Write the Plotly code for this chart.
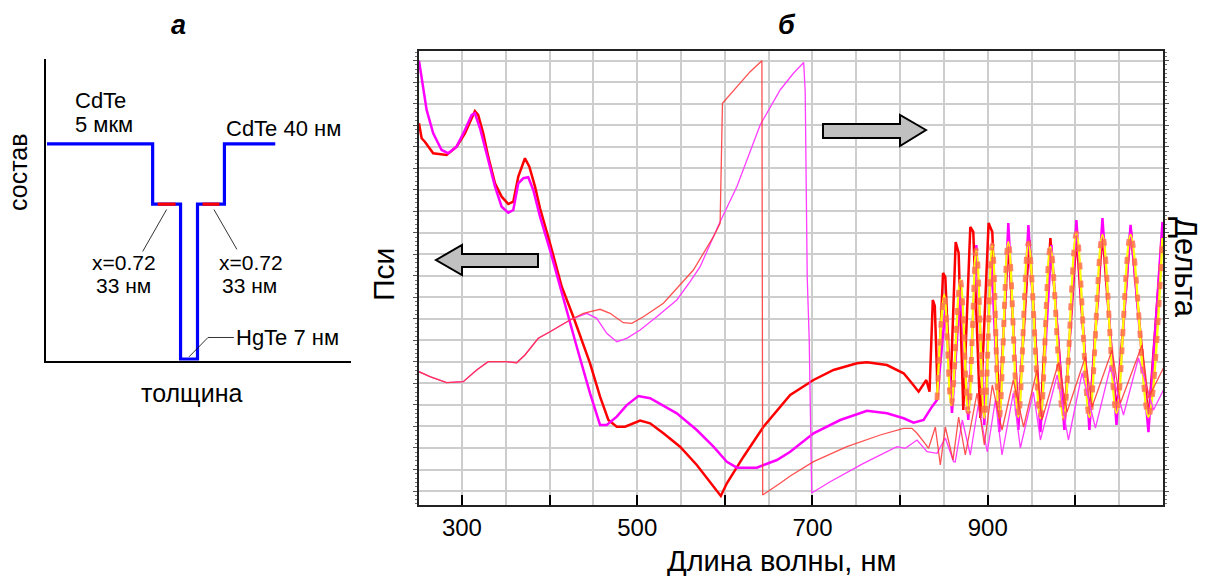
import plotly.graph_objects as go

W, H = 1211, 576

# ---------------- panel a: composition profile of the structure ----------------
layer_names = ["CdTe", "CdHgTe", "HgTe", "CdHgTe", "CdTe"]
layer_comp = [1.0, 0.72, 0.0, 0.72, 1.0]          # CdTe fraction x
layer_span = [106, 28, 17, 27, 51]                # schematic thickness, not to scale

# ---------------- panel б: ellipsometric spectra ----------------
# Psi, experiment
psi_exp_wl = [251, 254.0, 257.7, 267.2, 282.5, 293.9, 303.4, 311.1, 314.8, 318.6, 324.3, 330.0,
              337.7, 345.3, 352.9, 358.6, 364.3, 371.9, 376.9, 383.4, 389.1, 400.5, 413.9, 427.1,
              446.2, 457.6, 467.1, 476.7, 486.1, 503.3, 514.7, 529.9, 548.9, 568.0, 583.2, 595.4,
              602.3, 621.3, 644.1, 674.6, 701.2, 724.0, 750.7, 762.2, 785.0, 804.0, 813.5, 821.1,
              829.9, 833.6, 837.3, 839.6, 843.0, 849.0, 851.6, 857.3, 863.4, 866.8, 872.1, 880.1,
              883.5, 891.5, 901.0, 905.2, 913.2, 923.5, 934.9, 947.5, 960.1, 971.5, 987.5, 1001.2,
              1016.0, 1030.9, 1046.9, 1063.0, 1083.4, 1099.4]
psi_exp = [34.18, 32.79, 32.47, 31.39, 31.23, 32.01, 33.25, 34.65, 35.32, 34.95, 33.25, 31.08,
           28.60, 27.36, 26.68, 26.89, 29.22, 30.93, 30.15, 28.29, 26.28, 23.03, 18.99, 16.20,
           11.87, 8.77, 6.60, 5.98, 5.98, 6.54, 6.29, 5.36, 4.12, 2.42, 0.86, -0.46,
           0.72, 3.19, 5.98, 8.92, 10.32, 11.25, 11.87, 11.96, 11.71, 10.94, 10.01, 9.23,
           10.32, 9.23, 17.76, 17.20, 8.74, 20.27, 19.89, 8.92, 23.15, 22.12, 7.53, 24.54,
           24.08, 6.79, 24.91, 24.08, 7.07, 23.33, 6.79, 23.33, 6.60, 23.52, 6.51, 23.70,
           6.79, 24.08, 7.07, 24.45, 6.60, 24.08]

# Psi, model
psi_fit_wl = [251, 255.8, 259.7, 267.2, 276.8, 284.4, 293.9, 303.4, 311.1, 314.8, 320.6, 330.0,
              337.7, 345.3, 352.9, 358.6, 364.3, 370.0, 375.7, 381.4, 389.1, 400.5, 411.9, 415.7,
              431.0, 446.2, 457.6, 465.2, 476.7, 488.1, 501.3, 514.7, 545.2, 568.0, 587.0, 602.3,
              613.7, 636.5, 659.4, 674.6, 701.2, 731.7, 762.2, 785.0, 804.0, 815.4, 826.8, 836.4,
              842.1, 851.6, 859.2, 868.7, 877.8, 887.0, 896.1, 904.1, 913.2, 923.5, 934.9, 946.4,
              960.1, 972.6, 987.5, 1001.2, 1016.0, 1030.9, 1046.9, 1063.0, 1083.4, 1099.4]
psi_fit = [40.00, 37.58, 35.42, 33.25, 31.70, 31.39, 32.01, 33.56, 34.95, 35.11, 33.72, 30.77,
           28.29, 26.43, 25.87, 26.12, 28.60, 29.07, 29.16, 27.98, 25.50, 22.40, 18.99, 17.76,
           13.41, 9.08, 6.14, 6.14, 6.91, 7.99, 8.83, 8.62, 7.22, 5.67, 4.12, 2.72,
           2.17, 2.17, 2.88, 3.65, 5.36, 6.60, 7.46, 7.22, 6.76, 6.35, 6.60, 7.84,
           8.46, 16.83, 7.25, 18.69, 6.60, 22.87, 6.14, 21.94, 5.48, 24.91, 5.67, 24.73,
           5.48, 22.87, 5.67, 25.19, 5.67, 25.38, 6.14, 24.73, 5.48, 25.01]

# Psi, second model (interference region)
psi_fit2_wl = [842.1, 850.4, 858.4, 868.7, 877.8, 887.0, 896.1, 905.2, 913.2, 923.5, 934.9, 946.4,
               960.1, 971.5, 986.4, 1001.2, 1016.0, 1030.9, 1046.9, 1063.0, 1083.4, 1099.4]
psi_fit2 = [8.46, 18.22, 7.99, 19.61, 7.34, 22.40, 6.79, 22.87, 6.79, 23.15, 6.88, 23.05,
            6.79, 22.68, 6.79, 23.98, 6.88, 23.80, 7.25, 23.80, 6.88, 23.52]

# Delta, experiment
delta_exp_wl = [251, 263.5, 282.5, 301.5, 316.8, 330.0, 351.0, 362.5, 371.9, 387.1, 400.5, 423.3,
                438.5, 457.6, 469.0, 484.2, 493.8, 507.0, 529.9, 552.7, 564.1, 587.0, 594.6, 597.3,
                613.7, 628.9, 642.3, 643.2, 663.1, 674.6, 701.2, 739.3, 777.3, 803.9, 813.5, 819.3,
                826.8, 832.5, 840.2, 845.9, 851.6, 860.4, 866.8, 874.4, 887.8, 896.1, 905.2, 916.3,
                929.2, 940.9, 956.2, 961.9, 980.9, 990.5, 1011.4, 1019.0, 1041.9, 1051.4, 1076.1,
                1083.3, 1100.5]
delta_exp = [99.81, 95.62, 90.60, 91.44, 101.23, 108.17, 108.17, 107.33, 113.78, 127.75, 133.27, 143.06,
             148.66, 152.01, 148.66, 140.80, 140.30, 145.82, 157.03, 175.10, 184.89, 212.75, 223.96, 324.35,
             338.24, 350.79, 359.99, -3.35, 6.44, 12.55, 24.51, 37.06, 46.85, 52.45, 52.45, 48.27,
             41.24, 35.72, 53.54, 21.75, 53.54, 25.93, 61.91, 30.12, 81.99, 38.48, 88.68, 51.03,
             92.86, 53.54, 101.23, 59.40, 107.92, 66.09, 112.10, 70.27, 117.96, 73.62, 122.14,
             77.80, 102.90]

# Delta, model
delta_fit_wl = [251, 263.5, 282.5, 301.5, 316.8, 330.0, 351.0, 362.5, 371.9, 387.1, 400.5, 423.3,
                442.4, 453.8, 465.2, 476.7, 488.1, 503.3, 522.3, 545.2, 560.4, 571.8, 594.6, 613.7,
                640.3, 663.1, 678.3, 690.0, 691.7, 694.0, 696.3, 699.1, 720.2, 758.2, 796.4, 805.9,
                819.3, 830.7, 842.1, 851.6, 861.0, 862.9, 871.0, 880.1, 889.2, 899.5, 908.7, 916.3,
                929.2, 937.2, 952.1, 960.1, 979.2, 992.1, 1007.7, 1022.9, 1040.0, 1054.9, 1072.0,
                1089.2, 1100.5]
delta_fit = [99.81, 95.62, 90.60, 91.44, 101.23, 108.17, 108.17, 107.33, 113.78, 127.75, 133.27, 143.06,
             148.66, 144.48, 131.93, 124.90, 127.75, 134.69, 145.82, 159.79, 175.10, 187.65, 225.30, 254.58,
             306.20, 335.48, 349.45, 358.48, 334.05, 179.03, 126.33, -1.67, 7.78, 23.17, 37.06, 35.72,
             42.67, 32.88, 31.54, 44.34, 24.51, 24.26, 59.40, 30.12, 71.95, 32.63, 76.13, 30.12,
             81.99, 35.97, 82.82, 42.67, 97.05, 42.67, 98.72, 52.71, 103.99, 63.58, 111.27,
             67.76, 84.50]

x_labels = {300: "300", 500: "500", 700: "700", 900: "900"}

FONT = "Liberation Sans, Arial, sans-serif"


def paper(xp, yp):
    return xp / W, 1 - yp / H


fig = go.Figure()

# spectra: Delta curves on the right axis, Psi curves on the left axis
fig.add_trace(go.Scatter(x=delta_fit_wl, y=delta_fit, yaxis="y2", mode="lines",
                         line=dict(color="#ff3cff", width=1.3)))
fig.add_trace(go.Scatter(x=delta_exp_wl, y=delta_exp, yaxis="y2", mode="lines",
                         line=dict(color="rgba(255,50,50,0.85)", width=1.3)))
fig.add_trace(go.Scatter(x=psi_exp_wl, y=psi_exp, mode="lines",
                         line=dict(color="#ff0000", width=2.5)))
fig.add_trace(go.Scatter(x=psi_fit_wl, y=psi_fit, mode="lines",
                         line=dict(color="#ff00ff", width=2.5)))
fig.add_trace(go.Scatter(x=psi_fit2_wl, y=psi_fit2, mode="lines", line_shape="spline",
                         line=dict(color="#ffff00", width=2.4)))
fig.add_trace(go.Scatter(x=psi_fit2_wl, y=psi_fit2, mode="lines", line_shape="spline",
                         line=dict(color="rgba(255,105,80,0.8)", width=5, dash="7px,11px")))

# composition profile: step line built from the layer list
px_, py_ = [], []
pos = 0
bounds = []
for span, comp in zip(layer_span, layer_comp):
    px_ += [pos, pos + span]
    py_ += [comp, comp]
    bounds.append((pos, pos + span))
    pos += span
fig.add_trace(go.Scatter(x=px_, y=py_, xaxis="x2", yaxis="y3", mode="lines",
                         line=dict(color="#0000ff", width=3.2)))
# CdHgTe barriers highlighted in red
for (a, b), comp, name in zip(bounds, layer_comp, layer_names):
    if name == "CdHgTe":
        inset = 5
        fig.add_trace(go.Scatter(x=[a + inset, b - inset], y=[comp, comp], xaxis="x2", yaxis="y3",
                                 mode="lines", line=dict(color="#ff0000", width=3.2)))

# leader lines to the layer labels
lb, rb, well = bounds[1], bounds[3], bounds[2]
lmid = (lb[0] + lb[1]) / 2
rmid = (rb[0] + rb[1]) / 2
wmid = (well[0] + well[1]) / 2
leaders = [
    ([lmid, lmid - 24], [layer_comp[1] - 0.025, 0.50]),
    ([rmid + 3, rmid + 26], [layer_comp[3] - 0.025, 0.51]),
    ([wmid, wmid + 19, wmid + 45], [layer_comp[2] + 0.01, 0.10, 0.10]),
]
for lx, ly in leaders:
    fig.add_trace(go.Scatter(x=lx, y=ly, xaxis="x2", yaxis="y3", mode="lines",
                             line=dict(color="#000000", width=0.8)))

# block arrows pointing at the Psi (left) and Delta (right) axes
def poly(points):
    pts = [paper(x, y) for x, y in points]
    return "M " + " L ".join(f"{x:.5f},{y:.5f}" for x, y in pts) + " Z"

shapes = [
    dict(type="path", xref="paper", yref="paper",
         path=poly([(436, 260), (462, 245), (462, 254), (538, 254), (538, 267), (462, 267), (462, 275)]),
         fillcolor="#c0c0c0", line=dict(color="#000000", width=2)),
    dict(type="path", xref="paper", yref="paper",
         path=poly([(926, 130), (900, 115), (900, 124), (823, 124), (823, 138), (900, 138), (900, 146)]),
         fillcolor="#c0c0c0", line=dict(color="#000000", width=2)),
]

ann = []


def text(s, xp, yp, size, xanchor="center", angle=0, bold=False, italic=False):
    x, y = paper(xp, yp)
    t = s
    if bold:
        t = f"<b>{t}</b>"
    if italic:
        t = f"<i>{t}</i>"
    ann.append(dict(text=t, x=x, y=y, xref="paper", yref="paper", showarrow=False,
                    xanchor=xanchor, yanchor="middle", textangle=angle,
                    font=dict(family=FONT, size=size, color="#000000")))


text("а", 178, 25, 27, bold=True, italic=True)
text("б", 787, 25, 27, bold=True, italic=True)
text("CdTe", 73, 100, 22, xanchor="left")
text("5 мкм", 73, 125, 22, xanchor="left")
text("CdTe 40 нм", 224, 128, 22, xanchor="left")
text("x=0.72", 124, 262, 21)
text("33 нм", 123, 285, 21)
text("x=0.72", 251, 262, 21)
text("33 нм", 249, 285, 21)
text("HgTe 7 нм", 234, 337, 22, xanchor="left")
text("состав", 18, 172, 25, angle=-90)
text("толщина", 191, 393, 25)
text("Пси", 383, 275, 30, angle=-90)
text("Дельта", 1186, 267, 31, angle=90)
text("Длина волны, нм", 781, 561, 29)

x0, y0 = paper(419, 505)
x1, y1 = paper(1163, 51)
ax0, ay0 = paper(46, 361)
ax1, ay1 = paper(351, 59)

grid = "#cdcdcd"
fig.update_layout(
    width=W, height=H, margin=dict(l=0, r=0, t=0, b=0),
    paper_bgcolor="white", plot_bgcolor="white", showlegend=False,
    shapes=shapes, annotations=ann,
    xaxis=dict(domain=[x0, x1], range=[251, 1100], anchor="y",
               tickvals=list(range(300, 1001, 100)),
               ticktext=[x_labels.get(v, "") for v in range(300, 1001, 100)],
               ticks="inside", ticklen=10, tickwidth=2, tickcolor="#000000",
               tickfont=dict(family=FONT, size=24, color="#000000"),
               showgrid=True, gridcolor=grid, gridwidth=1.6,
               minor=dict(tickvals=list(range(350, 1051, 100)), showgrid=True,
                          gridcolor=grid, gridwidth=1.6, ticks=""),
               showline=True, linecolor="#222222", linewidth=1.8, mirror=True,
               zeroline=False),
    yaxis=dict(domain=[y0, y1], range=[-1.30, 40.90], anchor="x",
               tickvals=list(range(0, 41, 2)), showticklabels=False,
               ticks="outside", ticklen=4, tickcolor="#555555",
               showgrid=True, gridcolor=grid, gridwidth=1.6,
               minor=dict(dtick=0.4, ticks="outside", ticklen=2, tickcolor="#777777", showgrid=False),
               showline=True, linecolor="#222222", linewidth=1.8, zeroline=False),
    yaxis2=dict(range=[-11.71, 368.1], overlaying="y", side="right", anchor="x",
                showgrid=False, showticklabels=False,
                tickvals=list(range(0, 361, 18)), ticks="outside", ticklen=4, tickcolor="#555555",
                minor=dict(dtick=3.6, ticks="outside", ticklen=2, tickcolor="#777777"),
                showline=True, linecolor="#222222", linewidth=1.8, zeroline=False),
    xaxis2=dict(domain=[ax0, ax1], range=[-1, 305], anchor="y3",
                showgrid=False, zeroline=False, showticklabels=False, ticks="",
                showline=True, linecolor="#000000", linewidth=1.5),
    yaxis3=dict(domain=[ay0, ay1], range=[-0.0093, 1.395], anchor="x2",
                showgrid=False, zeroline=False, showticklabels=False, ticks="",
                showline=True, linecolor="#000000", linewidth=1.5),
)

fig.write_html("out.html")
